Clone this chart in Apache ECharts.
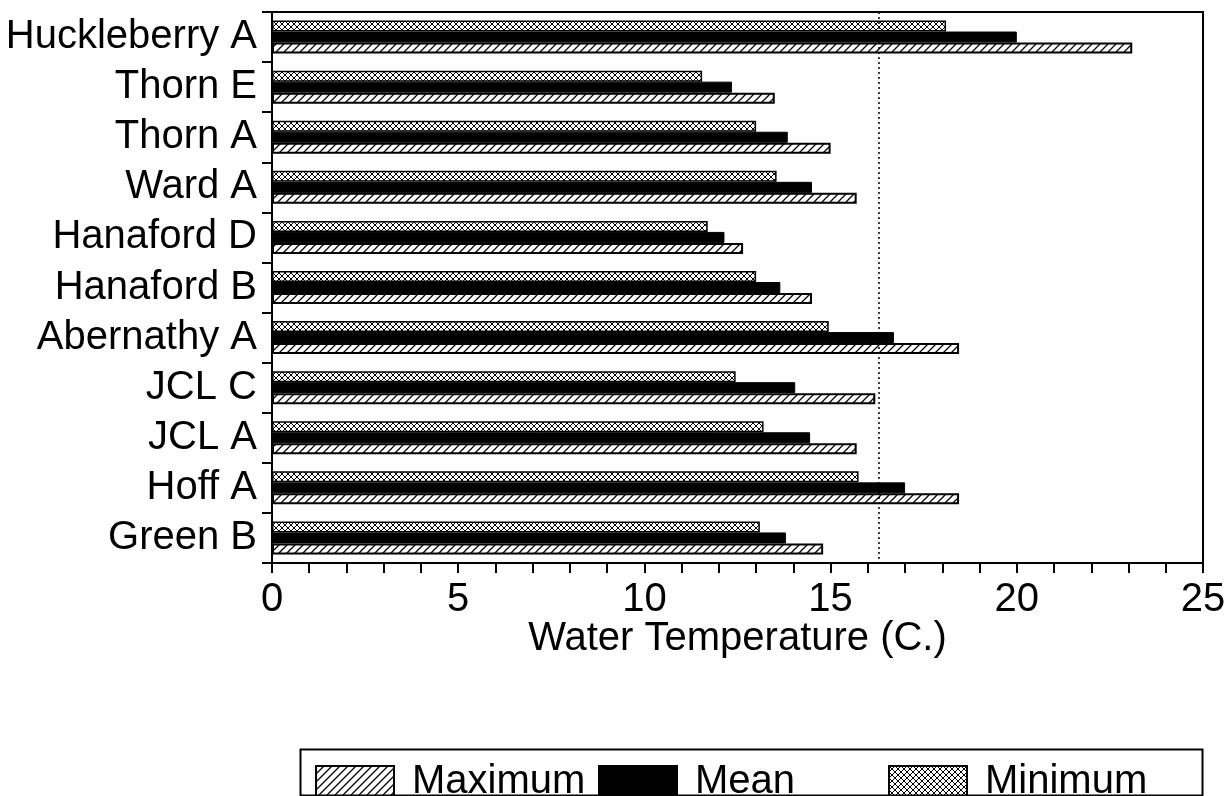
<!DOCTYPE html>
<html>
<head>
<meta charset="utf-8">
<script src="https://cdn.jsdelivr.net/npm/echarts@6/dist/echarts.min.js"></script>
<style>
  html, body { margin: 0; padding: 0; background: #fff; }
  #chart { width: 1231px; height: 796px; }
</style>
</head>
<body>
<div id="chart"></div>
<script>
// ---- data (top to bottom as displayed) ----
const categories = ['Huckleberry A', 'Thorn E', 'Thorn A', 'Ward A', 'Hanaford D', 'Hanaford B', 'Abernathy A', 'JCL C', 'JCL A', 'Hoff A', 'Green B'];
const maximumValues = [23.1, 13.5, 15.0, 15.7, 12.65, 14.5, 18.45, 16.2, 15.7, 18.45, 14.8];
const meanValues    = [20.0, 12.35, 13.85, 14.5, 12.15, 13.65, 16.7, 14.05, 14.45, 17.0, 13.8];
const minimumValues = [18.1, 11.55, 13.0, 13.55, 11.7, 13.0, 14.95, 12.45, 13.2, 15.75, 13.1];
const referenceLine = 16.3;
const xTicks = [0, 5, 10, 15, 20, 25];

const FONT = 'Liberation Sans';
const FS = 40;

function hatchPattern() {
  const c = document.createElement('canvas');
  c.width = 8; c.height = 8;
  const g = c.getContext('2d');
  g.fillStyle = '#fff'; g.fillRect(0, 0, 8, 8);
  g.strokeStyle = '#000'; g.lineWidth = 1.3;
  g.beginPath();
  g.moveTo(-2, 10); g.lineTo(10, -2);
  g.moveTo(-2, 2); g.lineTo(2, -2);
  g.moveTo(6, 10); g.lineTo(10, 6);
  g.stroke();
  return c;
}
function crossPattern() {
  const c = document.createElement('canvas');
  c.width = 6; c.height = 6;
  const g = c.getContext('2d');
  g.fillStyle = '#fff'; g.fillRect(0, 0, 6, 6);
  g.strokeStyle = '#000'; g.lineWidth = 1;
  g.beginPath();
  g.moveTo(0, 6); g.lineTo(6, 0);
  g.moveTo(0, 0); g.lineTo(6, 6);
  g.stroke();
  return c;
}

const hatchFill = { image: hatchPattern(), repeat: 'repeat' };
const crossFill = { image: crossPattern(), repeat: 'repeat' };

const chart = echarts.init(document.getElementById('chart'), null, { renderer: 'canvas' });

const legendText = { fontSize: FS, fontFamily: FONT, color: '#000', padding: [0, 0, 0, 13] };
const legendBase = { orient: 'horizontal', icon: 'rect', itemWidth: 78, itemHeight: 32, top: 762, padding: 0, textStyle: legendText, selectedMode: false };

const option = {
  animation: false,
  backgroundColor: '#fff',
  grid: { left: 272, right: 28, top: 12, bottom: 233, show: true, borderColor: '#000', borderWidth: 2 },
  xAxis: {
    type: 'value', min: xTicks[0], max: xTicks[xTicks.length - 1], interval: 5,
    axisLine: { show: true, lineStyle: { color: '#000', width: 2 } },
    axisTick: { show: true, length: 10, lineStyle: { color: '#000', width: 2 } },
    minorTick: { show: true, splitNumber: 5, length: 10, lineStyle: { color: '#000', width: 2 } },
    splitLine: { show: false },
    axisLabel: { fontSize: FS, fontFamily: FONT, color: '#000', margin: 17 },
    name: 'Water Temperature (C.)', nameLocation: 'middle', nameGap: 56, nameMoveOverlap: false,
    nameTextStyle: { fontSize: FS, fontFamily: FONT, color: '#000' }
  },
  yAxis: {
    type: 'category', inverse: true, data: categories,
    axisLine: { show: true, lineStyle: { color: '#000', width: 2 } },
    axisTick: { show: true, length: 10, lineStyle: { color: '#000', width: 2 } },
    axisLabel: { fontSize: FS, fontFamily: FONT, color: '#000', margin: 15, interval: 0 },
    splitLine: { show: false }
  },
  legend: [
    Object.assign({ data: ['Maximum'], left: 315 }, legendBase),
    Object.assign({ data: ['Mean'], left: 598 }, legendBase),
    Object.assign({ data: ['Minimum'], left: 888 }, legendBase)
  ],
  graphic: [{
    type: 'rect', left: 298, top: 747,
    shape: { width: 902, height: 46 },
    style: { fill: 'none', stroke: '#000', lineWidth: 2 }, z: 10
  }],
  series: [
    {
      name: 'Minimum', type: 'bar', data: minimumValues, barWidth: 11, barGap: '0%',
      itemStyle: { color: crossFill, borderColor: '#000', borderWidth: 1.5 }
    },
    {
      name: 'Mean', type: 'bar', data: meanValues, barWidth: 11, barGap: '0%',
      itemStyle: { color: '#000', borderColor: '#000', borderWidth: 1 }
    },
    {
      name: 'Maximum', type: 'bar', data: maximumValues, barWidth: 11, barGap: '0%',
      itemStyle: { color: hatchFill, borderColor: '#000', borderWidth: 2 },
      markLine: {
        silent: true, symbol: 'none', label: { show: false },
        lineStyle: { color: '#000', type: [2, 3], width: 1.5 },
        data: [{ xAxis: referenceLine }]
      }
    }
  ]
};
chart.setOption(option);
</script>
</body>
</html>
